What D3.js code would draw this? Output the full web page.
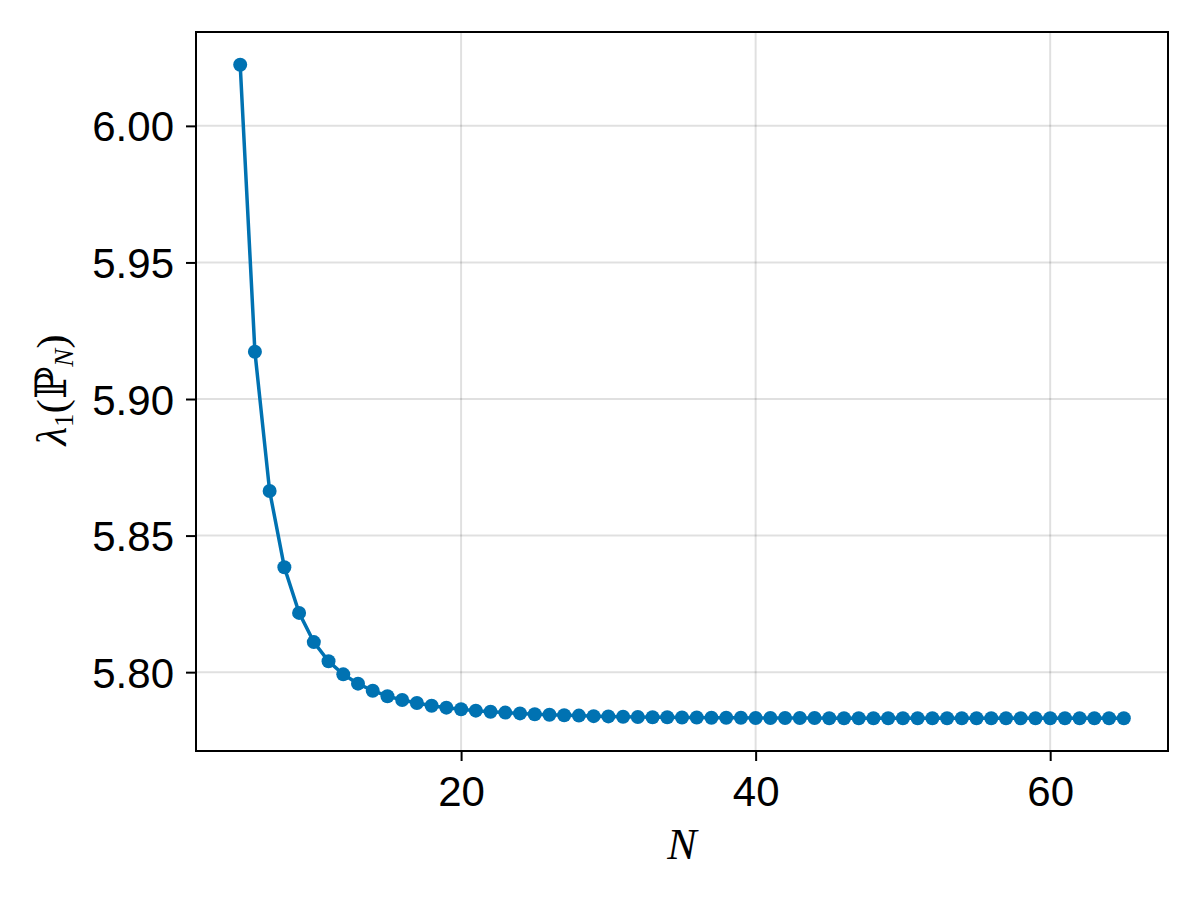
<!DOCTYPE html>
<html>
<head>
<meta charset="utf-8">
<script src="https://cdn.jsdelivr.net/npm/d3@7"></script>
<style>
  body { margin: 0; background: #fff; }
  svg { display: block; }
  .tick-label { font-family: "Liberation Sans", Arial, sans-serif; font-size: 42px; fill: #000; }
  .math { font-family: "Liberation Serif", "DejaVu Serif", serif; fill: #000; }
</style>
</head>
<body>
<div id="chart"></div>
<script>
"use strict";

// N values (5..65)
var nValues = d3.range(5, 66);

// lambda_1 values
var lambdaValues = [
  6.0224, 5.9173, 5.8663, 5.8384, 5.8217, 5.8110, 5.8040, 5.7992, 5.7958, 5.7932,
  5.7912, 5.7898, 5.7887, 5.7877, 5.7870, 5.7864, 5.7859, 5.7855, 5.7852, 5.7849,
  5.7846, 5.7844, 5.7842, 5.7841, 5.7839, 5.7838, 5.7837, 5.7836, 5.7835, 5.7835,
  5.7834, 5.7834, 5.7833, 5.7833, 5.7833, 5.7832, 5.7832, 5.7832, 5.7832, 5.7832,
  5.7831, 5.7831, 5.7831, 5.7831, 5.7831, 5.7831, 5.7831, 5.7831, 5.7831, 5.7831,
  5.7831, 5.7831, 5.7831, 5.7831, 5.7831, 5.7831, 5.7831, 5.7831, 5.7831, 5.7831,
  5.7831
];

var xTicks = [20, 40, 60];
var yTicks = [5.80, 5.85, 5.90, 5.95, 6.00];

(function() {
  var width = 1200,
      height = 900;
  var margin = { top: 32, right: 32, bottom: 149, left: 196 };
  var innerW = width - margin.left - margin.right,
      innerH = height - margin.top - margin.bottom;
  var color = "#0072b2";

  var data = nValues.map(function(n, i) {
    return { n: n, v: lambdaValues[i] };
  });

  // Makie-style 5% padding around the data extent
  var padded = function(ext) {
    var p = (ext[1] - ext[0]) * 0.05;
    return [ext[0] - p, ext[1] + p];
  };

  var x = d3.scaleLinear()
    .domain(padded(d3.extent(nValues)))
    .range([0, innerW]);

  var y = d3.scaleLinear()
    .domain(padded(d3.extent(lambdaValues)))
    .range([innerH, 0]);

  var svg = d3.select("#chart").append("svg")
    .attr("width", width)
    .attr("height", height);

  var g = svg.append("g")
    .attr("transform", "translate(" + margin.left + "," + margin.top + ")");

  // grid
  g.append("g").selectAll("line")
    .data(xTicks)
  .enter().append("line")
    .attr("x1", function(d) { return x(d); })
    .attr("x2", function(d) { return x(d); })
    .attr("y1", 0)
    .attr("y2", innerH)
    .attr("stroke", "rgba(0,0,0,0.12)")
    .attr("stroke-width", 2);

  g.append("g").selectAll("line")
    .data(yTicks)
  .enter().append("line")
    .attr("x1", 0)
    .attr("x2", innerW)
    .attr("y1", function(d) { return y(d); })
    .attr("y2", function(d) { return y(d); })
    .attr("stroke", "rgba(0,0,0,0.12)")
    .attr("stroke-width", 2);

  // axes
  var xAxis = g.append("g")
    .attr("transform", "translate(0," + innerH + ")")
    .call(d3.axisBottom(x).tickValues(xTicks).tickSize(10).tickPadding(13).tickSizeOuter(0));

  var yAxis = g.append("g")
    .call(d3.axisLeft(y).tickValues(yTicks).tickFormat(d3.format(".2f")).tickSize(10).tickPadding(12).tickSizeOuter(0));

  [xAxis, yAxis].forEach(function(ax) {
    ax.select(".domain").remove();
    ax.selectAll(".tick line").attr("stroke", "#000").attr("stroke-width", 2);
    ax.selectAll(".tick text")
      .attr("class", "tick-label")
      .attr("font-family", null)
      .attr("font-size", null);
  });
  xAxis.selectAll(".tick text").attr("dy", "0.76em");
  yAxis.selectAll(".tick text").attr("dy", "0.36em");

  // frame
  g.append("rect")
    .attr("width", innerW)
    .attr("height", innerH)
    .attr("fill", "none")
    .attr("stroke", "#000")
    .attr("stroke-width", 2);

  // line + markers
  var line = d3.line()
    .x(function(d) { return x(d.n); })
    .y(function(d) { return y(d.v); });

  g.append("path")
    .datum(data)
    .attr("fill", "none")
    .attr("stroke", color)
    .attr("stroke-width", 3.5)
    .attr("d", line);

  g.append("g").selectAll("circle")
    .data(data)
  .enter().append("circle")
    .attr("cx", function(d) { return x(d.n); })
    .attr("cy", function(d) { return y(d.v); })
    .attr("r", 7)
    .attr("fill", color);

  // x label: N
  svg.append("text")
    .attr("class", "math")
    .attr("x", margin.left + innerW / 2)
    .attr("y", 859)
    .attr("text-anchor", "middle")
    .attr("font-size", 44)
    .attr("font-style", "italic")
    .text("N");

  // y label: lambda_1(P_N)
  var yl = svg.append("text")
    .attr("class", "math")
    .attr("transform", "translate(66,390) rotate(-90)")
    .attr("text-anchor", "middle")
    .attr("font-size", 43);

  yl.append("tspan").attr("font-style", "italic").text("λ");
  yl.append("tspan").attr("font-size", 27).attr("dy", 7).text("1");
  yl.append("tspan").attr("dy", -7).text("(");
  yl.append("tspan").attr("font-family", "DejaVu Serif, DejaVu Sans").text("ℙ");
  yl.append("tspan").attr("font-size", 27).attr("font-style", "italic").attr("dy", 7).text("N");
  yl.append("tspan").attr("dy", -7).text(")");
})();
</script>
</body>
</html>
